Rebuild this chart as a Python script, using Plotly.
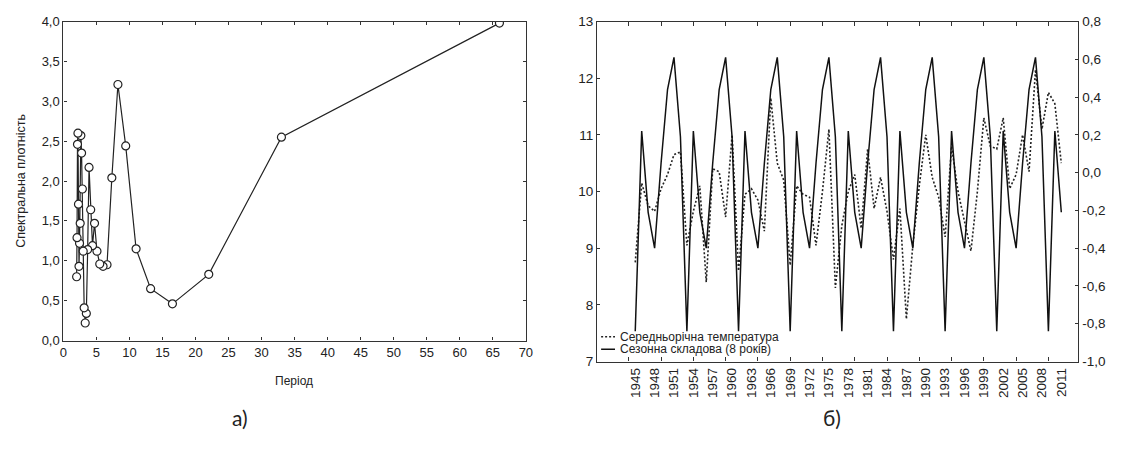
import plotly.graph_objects as go

# ---------------- Panel a) : periodogram ----------------
period = [66.0, 33.0, 22.0, 16.5, 13.2, 11.0, 9.43, 8.25, 7.33, 6.6, 6.0, 5.5,
          5.08, 4.71, 4.4, 4.13, 3.88, 3.67, 3.47, 3.3, 3.14, 3.0, 2.87, 2.75,
          2.64, 2.54, 2.44, 2.36, 2.28, 2.2, 2.13, 2.06, 2.0]
density = [3.98, 2.55, 0.83, 0.46, 0.65, 1.15, 2.44, 3.21, 2.04, 0.95, 0.93, 0.96,
           1.12, 1.47, 1.19, 1.64, 2.17, 1.14, 0.34, 0.22, 0.41, 1.12, 1.90, 2.35,
           2.57, 1.47, 1.22, 0.93, 1.71, 2.60, 2.46, 1.29, 0.80]
a_xticks = [0, 5, 10, 15, 20, 25, 30, 35, 40, 45, 50, 55, 60, 65, 70]
a_yticks = [0.0, 0.5, 1.0, 1.5, 2.0, 2.5, 3.0, 3.5, 4.0]

# ---------------- Panel б) : temperature and seasonal component ----------------
years = list(range(1945, 2012))
temperature = [8.75, 10.15, 9.75, 9.65, 10.05, 10.3, 10.65, 10.7, 9.05, 9.65,
               10.1, 8.4, 10.4, 10.35, 9.55, 11.0, 8.6, 9.95, 10.05, 9.85,
               9.3, 11.65, 10.5, 10.2, 8.7, 10.1, 9.95, 9.9, 9.05, 10.0,
               11.1, 8.3, 9.4, 10.0, 10.3, 9.35, 10.75, 9.7, 10.25, 9.65,
               8.8, 9.7, 7.75, 9.05, 10.1, 11.0, 10.25, 9.9, 9.2, 10.8,
               10.0, 9.5, 8.95, 10.0, 11.3, 10.8, 10.75, 11.3, 10.05, 10.3,
               11.0, 10.35, 12.15, 11.1, 11.75, 11.55, 10.5]
seasonal = [-0.84, 0.22, -0.21, -0.40, 0.05, 0.44, 0.61, 0.19,
            -0.84, 0.22, -0.21, -0.40, 0.05, 0.44, 0.61, 0.19,
            -0.84, 0.22, -0.21, -0.40, 0.05, 0.44, 0.61, 0.19,
            -0.84, 0.22, -0.21, -0.40, 0.05, 0.44, 0.61, 0.19,
            -0.84, 0.22, -0.21, -0.40, 0.05, 0.44, 0.61, 0.19,
            -0.84, 0.22, -0.21, -0.40, 0.05, 0.44, 0.61, 0.19,
            -0.84, 0.22, -0.21, -0.40, 0.05, 0.44, 0.61, 0.19,
            -0.84, 0.22, -0.21, -0.40, 0.05, 0.44, 0.61, 0.19,
            -0.84, 0.22, -0.21]
b_year_ticks = list(range(1945, 2012, 3))
b_left_ticks = [7, 8, 9, 10, 11, 12, 13]
b_right_ticks = [-1.0, -0.8, -0.6, -0.4, -0.2, 0.0, 0.2, 0.4, 0.6, 0.8]
legend_names = ["Середньорічна температура", "Сезонна складова (8 років)"]


def comma(v, d=1):
    return f"{v:.{d}f}".replace(".", ",")


W, H = 1128, 452
FONT = "Liberation Sans"


def px(x):
    return x / W


def py(y):
    return 1 - y / H


fig = go.Figure()

fig.add_trace(go.Scatter(
    x=period, y=density, mode="lines+markers", xaxis="x", yaxis="y",
    line=dict(color="#222", width=1.2),
    marker=dict(symbol="circle", size=8, color="white",
                line=dict(color="#222", width=1.2)),
    showlegend=False))

fig.add_trace(go.Scatter(
    x=years, y=temperature, mode="lines", xaxis="x2", yaxis="y2",
    line=dict(color="#222", width=1.6, dash="2px,2px"), showlegend=False))

fig.add_trace(go.Scatter(
    x=years, y=seasonal, mode="lines", xaxis="x2", yaxis="y3",
    line=dict(color="#111", width=1.5), showlegend=False))

axis_common = dict(showline=True, linecolor="#333", linewidth=1.2, showgrid=False,
                   zeroline=False, ticks="inside", ticklen=3, tickcolor="#333",
                   tickfont=dict(family=FONT, size=13, color="#222"))
big_font = dict(family=FONT, size=13.5, color="#222")

fig.update_layout(
    width=W, height=H, margin=dict(l=0, r=0, t=0, b=0),
    paper_bgcolor="white", plot_bgcolor="white",
    font=dict(family=FONT, color="#222"),
    xaxis=dict(domain=[px(60), px(527)], range=[0, 70], anchor="y",
               tickvals=a_xticks, ticktext=[str(v) for v in a_xticks],
               mirror="ticks", **axis_common),
    yaxis=dict(domain=[py(345), py(15)], range=[0, 4], anchor="x",
               tickvals=a_yticks, ticktext=[comma(v) for v in a_yticks],
               mirror="ticks", **axis_common),
    xaxis2=dict(domain=[px(599), px(1085)], range=[1939.1, 2013.65], anchor="y2",
                tickvals=b_year_ticks, ticktext=[str(v) for v in b_year_ticks],
                tickangle=-90, mirror="ticks",
                minor=dict(ticks="inside", tick0=1944, dtick=5, ticklen=4,
                           tickcolor="#333"),
                **{**axis_common, "ticks": "", "tickfont": big_font}),
    yaxis2=dict(domain=[py(366.7), py(15)], range=[7, 13], anchor="x2",
                tickvals=b_left_ticks, ticktext=[str(v) for v in b_left_ticks],
                **{**axis_common, "tickfont": big_font}),
    yaxis3=dict(range=[-1.0, 0.8], overlaying="y2", side="right", anchor="x2",
                tickvals=b_right_ticks, ticktext=[comma(v) for v in b_right_ticks],
                **{**axis_common, "tickfont": big_font}),
)

ann = [
    dict(x=px(17), y=py(180), text="Спектральна плотність", textangle=-90,
         font=dict(family=FONT, size=12.5, color="#222")),
    dict(x=px(293), y=py(387), text="Період", font=dict(family=FONT, size=12, color="#222")),
    dict(x=px(238), y=py(425), text="а)", font=dict(family="Lato", size=21, color="#222")),
    dict(x=px(836), y=py(425), text="б)", font=dict(family="Lato", size=21, color="#222")),
    dict(x=px(620), y=py(341), text=legend_names[0], xanchor="left",
         font=dict(family=FONT, size=12, color="#222")),
    dict(x=px(620), y=py(354), text=legend_names[1], xanchor="left",
         font=dict(family=FONT, size=12, color="#222")),
]
for a in ann:
    a.setdefault("xanchor", "center")
    a.update(xref="paper", yref="paper", yanchor="middle", showarrow=False)
fig.update_layout(annotations=ann)

fig.add_shape(type="line", xref="paper", yref="paper", x0=px(603), x1=px(617),
              y0=py(341), y1=py(341), line=dict(color="#222", width=1.4, dash="2px,2px"))
fig.add_shape(type="line", xref="paper", yref="paper", x0=px(603), x1=px(617),
              y0=py(354), y1=py(354), line=dict(color="#111", width=1.5))

fig.write_html("out.html")
